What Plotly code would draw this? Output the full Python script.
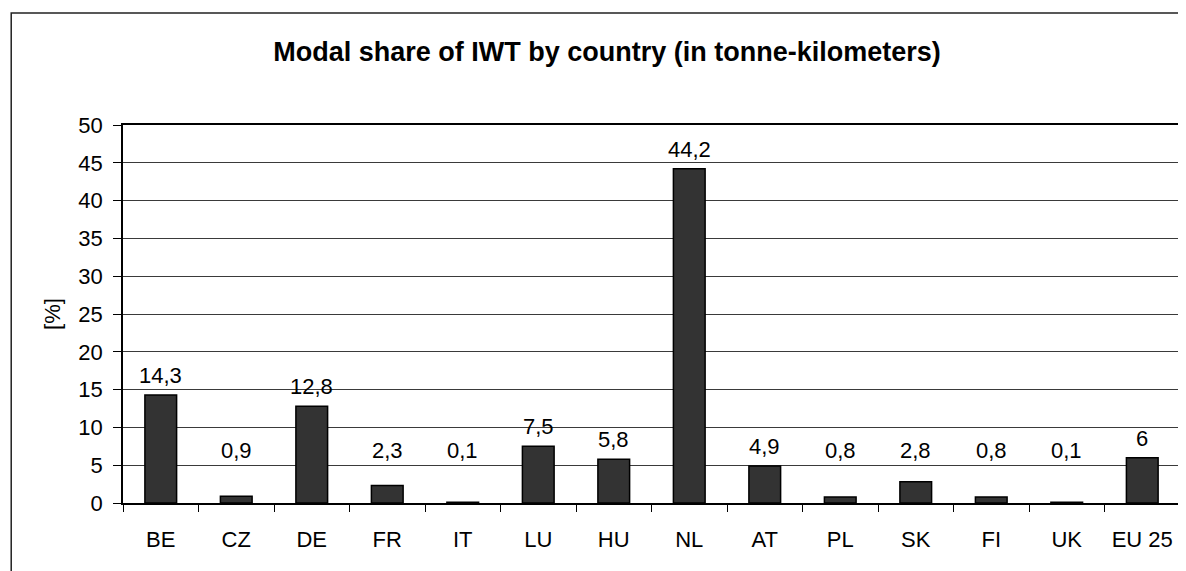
import plotly.graph_objects as go

countries = ["BE", "CZ", "DE", "FR", "IT", "LU", "HU", "NL", "AT", "PL", "SK", "FI", "UK", "EU 25"]
share = [14.3, 0.9, 12.8, 2.3, 0.1, 7.5, 5.8, 44.2, 4.9, 0.8, 2.8, 0.8, 0.1, 6]
y_ticks = list(range(0, 51, 5))

title_text = "Modal share of IWT by country (in tonne-kilometers)"
y_title = "[%]"

# page body has an 8px default margin; size the figure to fit the viewport
OFF = 8
W, H = 1186 - OFF, 571 - OFF
L, T = 123 - OFF, 125 - OFF
R = W - (1182 - OFF)
B = H - (503 - OFF)
pw, ph = W - L - R, H - T - B

FONT = "Liberation Sans, Arial, sans-serif"
FS = 22

fig = go.Figure()
fig.add_trace(go.Bar(
    x=countries, y=share, width=0.42,
    marker=dict(color="#333333", line=dict(color="#000000", width=1.5)),
    hoverinfo="x+y",
))

# data labels (Excel style: small values lifted to a common minimum height)
label_floor = 4.4
for c, v in zip(countries, share):
    fig.add_annotation(
        x=c, y=max(v, label_floor), xref="x", yref="y",
        text=f"{v:g}".replace(".", ","), showarrow=False,
        yanchor="bottom", yshift=5,
        font=dict(family=FONT, size=FS, color="#000000"),
    )

# outer chart border
fig.add_shape(type="rect", xref="paper", yref="paper",
              x0=(11 - 123) / pw, x1=1.2, y0=(503 - 13) / ph, y1=-0.5,
              line=dict(color="#222222", width=1.5), layer="above")

fig.update_layout(
    width=W, height=H,
    margin=dict(l=L, r=R, t=T, b=B, pad=0),
    paper_bgcolor="white", plot_bgcolor="white",
    showlegend=False,
    title=dict(text=f"<b>{title_text}</b>", x=(607 - OFF) / W, xref="container",
               y=1 - (52 - OFF) / H, yref="container", xanchor="center", yanchor="middle",
               font=dict(family=FONT, size=27, color="#000000")),
    font=dict(family=FONT, size=FS, color="#000000"),
)
fig.update_xaxes(
    showline=True, linecolor="#000000", linewidth=1.5, mirror=True,
    ticks="outside", tickson="boundaries", ticklen=7, tickcolor="#000000", tickwidth=1,
    ticklabelstandoff=16, showgrid=False,
    tickfont=dict(family=FONT, size=FS, color="#000000"),
)
fig.update_yaxes(
    range=[0, 50], tickvals=y_ticks, ticktext=[str(t) for t in y_ticks],
    showline=True, linecolor="#000000", linewidth=1.5, mirror=True,
    ticks="outside", ticklen=8, tickcolor="#000000", tickwidth=1,
    ticklabelstandoff=6,
    showgrid=True, gridcolor="#3a3a3a", gridwidth=1, zeroline=False,
    tickfont=dict(family=FONT, size=FS, color="#000000"),
    title=dict(text=y_title, standoff=12, font=dict(family=FONT, size=FS, color="#000000")),
)

fig.write_html("out.html")
